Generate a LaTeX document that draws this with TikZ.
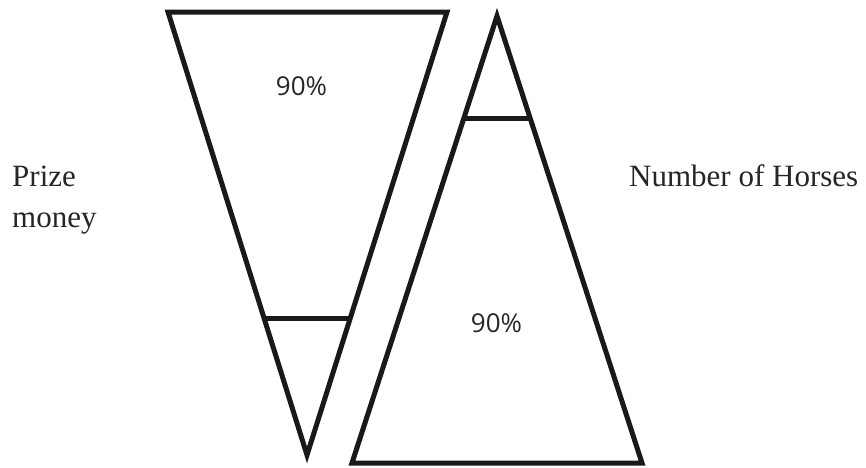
\documentclass[tikz,border=0pt]{standalone}
\usepackage{fontspec}
\setmainfont{Liberation Serif}
\newfontfamily\pctfont{Open Sans}
\usetikzlibrary{calc}
\begin{document}
\begin{tikzpicture}[x=1pt,y=-1pt,
  outline/.style={draw=black!90,line width=5pt,line join=miter},
  pct/.style={font=\pctfont\fontsize{26}{30}\selectfont,text=black!85,inner sep=0pt},
  lbl/.style={font=\fontsize{31}{36}\selectfont,text=black!85,inner sep=0pt,anchor=base west}]
\useasboundingbox (0,0) rectangle (866,467);
% inverted triangle (prize money)
\coordinate (a1) at (168,12);
\coordinate (a2) at (447,12);
\coordinate (a3) at (307,455);
\draw[outline] (a1) -- (a2) -- (a3) -- cycle;
\coordinate (c1) at ($(a1)!0.6923!(a3)$);
\coordinate (c2) at ($(a2)!0.6923!(a3)$);
\draw[outline] (c1) -- (c2);
% upright triangle (number of horses)
\coordinate (b1) at (497,16);
\coordinate (b2) at (352,463);
\coordinate (b3) at (642,463);
\draw[outline] (b1) -- (b2) -- (b3) -- cycle;
\coordinate (d1) at ($(b1)!0.2282!(b2)$);
\coordinate (d2) at ($(b1)!0.2282!(b3)$);
\draw[outline] (d1) -- (d2);
% labels
\node[pct] (p1) at (301.5,86.5) {90\%};
\node[pct] (p2) at (496.5,323.5) {90\%};
\node[lbl] (t1) at (12,186) {Prize};
\node[lbl] (t2) at (12,227) {money};
\node[lbl] (t3) at (629,186) {Number of Horses};
\end{tikzpicture}
\end{document}
